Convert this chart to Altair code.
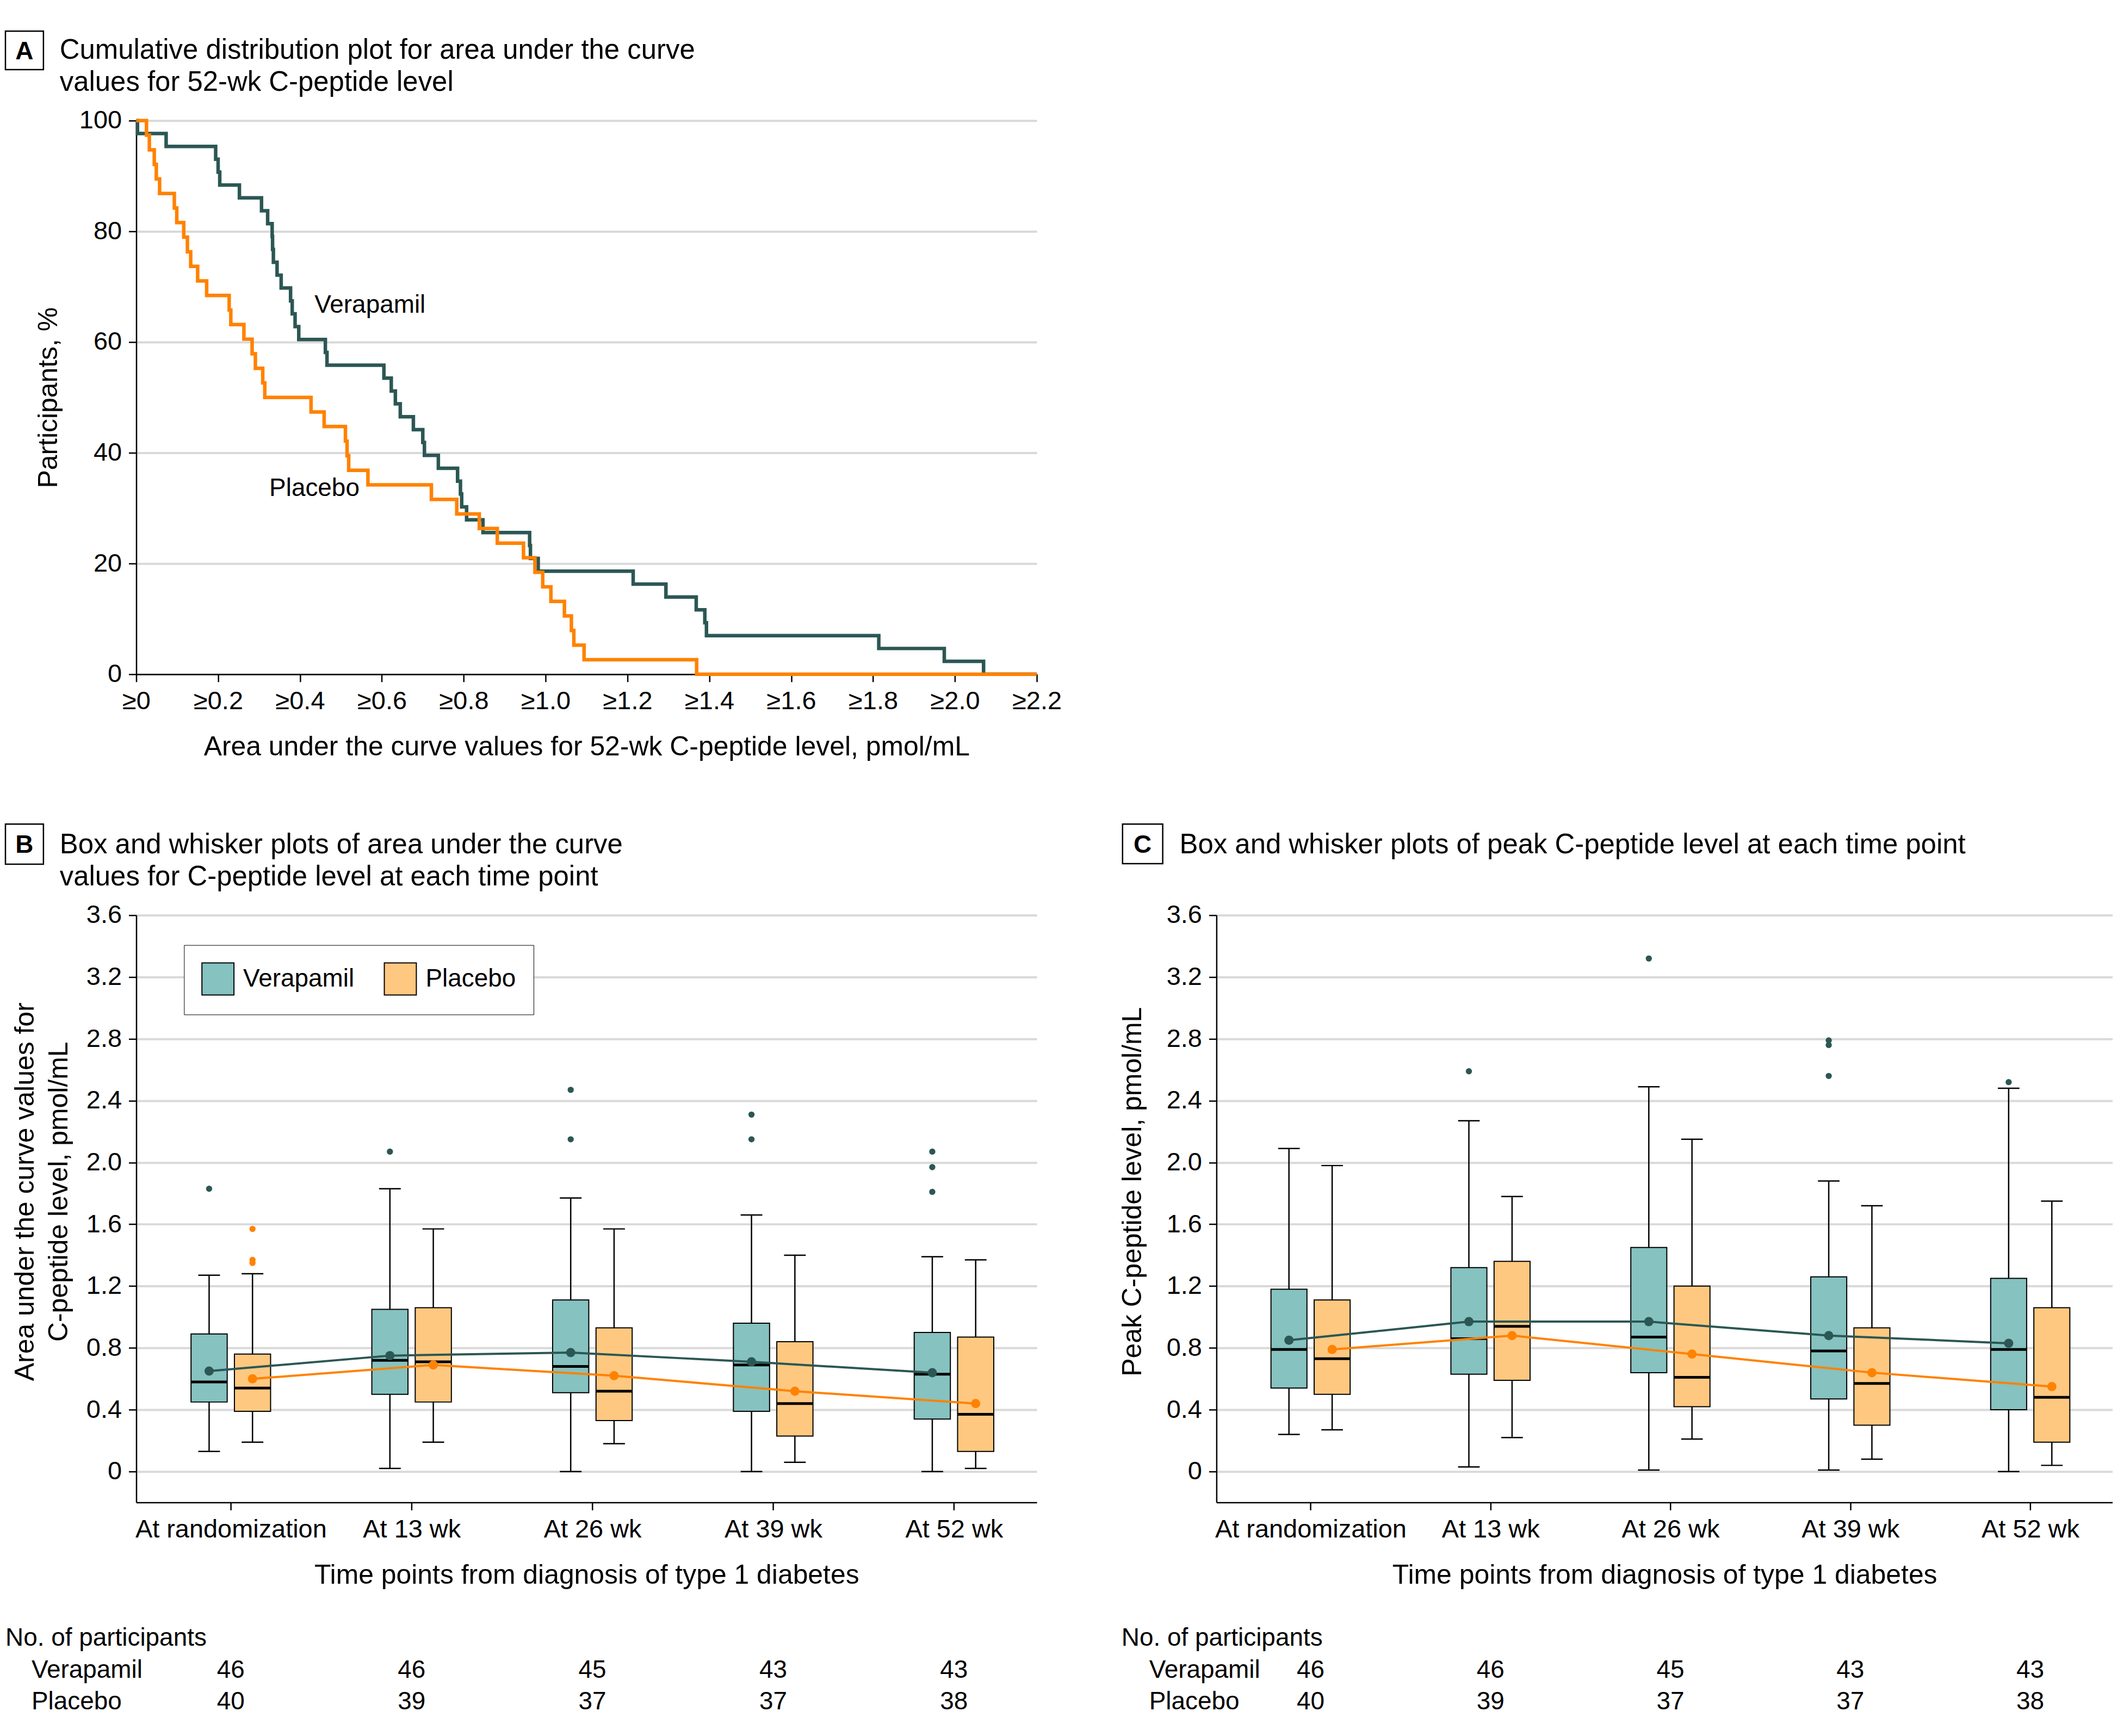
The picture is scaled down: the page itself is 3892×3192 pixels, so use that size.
import json
import altair as alt
import pandas as pd

FONT = "Liberation Sans, Arial, Helvetica, sans-serif"
TEAL_DARK = "#2B5754"
ORANGE = "#FF8200"
TEAL_FILL = "#85C2C0"
ORANGE_FILL = "#FFC880"
GRID = "#D9D9D9"

groups = ["Verapamil", "Placebo"]
timepoints = ["At randomization", "At 13 wk", "At 26 wk", "At 39 wk", "At 52 wk"]
timepoint_index = [0, 1, 2, 3, 4]

# ---------------- Panel A: 52-wk AUC per participant ----------------
verapamil_auc_52wk = [0.003, 0.073, 0.194, 0.200, 0.204, 0.252, 0.306, 0.321, 0.332, 0.333,
                      0.335, 0.344, 0.354, 0.377, 0.381, 0.388, 0.397, 0.462, 0.466, 0.605,
                      0.623, 0.633, 0.645, 0.677, 0.700, 0.704, 0.738, 0.785, 0.792, 0.795,
                      0.807, 0.847, 0.961, 0.963, 0.982, 1.214, 1.294, 1.368, 1.389, 1.393,
                      1.814, 1.974, 2.070]
placebo_auc_52wk = [0.025, 0.032, 0.044, 0.049, 0.057, 0.093, 0.099, 0.116, 0.125, 0.133,
                    0.150, 0.172, 0.227, 0.231, 0.263, 0.283, 0.291, 0.309, 0.314, 0.427,
                    0.459, 0.511, 0.515, 0.519, 0.566, 0.721, 0.783, 0.838, 0.882, 0.946,
                    0.974, 0.993, 1.013, 1.046, 1.063, 1.069, 1.094, 1.369]
a_x_ticks = [0, 0.2, 0.4, 0.6, 0.8, 1.0, 1.2, 1.4, 1.6, 1.8, 2.0, 2.2]
a_y_ticks = [0, 20, 40, 60, 80, 100]
a_label_text = ["Verapamil", "Placebo"]
a_label_x = [0.4355, 0.325]
a_label_y = [66.7, 33.6]

# ---------------- Panel B: AUC box statistics ----------------
b_ver_low = [0.13, 0.02, 0.00, 0.00, 0.00]
b_ver_q1 = [0.45, 0.50, 0.51, 0.39, 0.34]
b_ver_med = [0.58, 0.72, 0.68, 0.69, 0.63]
b_ver_q3 = [0.89, 1.05, 1.11, 0.96, 0.90]
b_ver_high = [1.27, 1.83, 1.77, 1.66, 1.39]
b_ver_mean = [0.65, 0.75, 0.77, 0.71, 0.64]
b_pla_low = [0.19, 0.19, 0.18, 0.06, 0.02]
b_pla_q1 = [0.39, 0.45, 0.33, 0.23, 0.13]
b_pla_med = [0.54, 0.71, 0.52, 0.44, 0.37]
b_pla_q3 = [0.76, 1.06, 0.93, 0.84, 0.87]
b_pla_high = [1.28, 1.57, 1.57, 1.40, 1.37]
b_pla_mean = [0.60, 0.69, 0.62, 0.52, 0.44]
b_out_t = [0, 0, 0, 0, 1, 2, 2, 3, 3, 4, 4, 4]
b_out_group = ["Verapamil", "Placebo", "Placebo", "Placebo", "Verapamil", "Verapamil",
               "Verapamil", "Verapamil", "Verapamil", "Verapamil", "Verapamil", "Verapamil"]
b_out_value = [1.83, 1.57, 1.37, 1.35, 2.07, 2.47, 2.15, 2.31, 2.15, 2.07, 1.97, 1.81]

# ---------------- Panel C: peak C-peptide box statistics ----------------
c_ver_low = [0.24, 0.03, 0.01, 0.01, 0.00]
c_ver_q1 = [0.54, 0.63, 0.64, 0.47, 0.40]
c_ver_med = [0.79, 0.86, 0.87, 0.78, 0.79]
c_ver_q3 = [1.18, 1.32, 1.45, 1.26, 1.25]
c_ver_high = [2.09, 2.27, 2.49, 1.88, 2.48]
c_ver_mean = [0.85, 0.97, 0.97, 0.88, 0.83]
c_pla_low = [0.27, 0.22, 0.21, 0.08, 0.04]
c_pla_q1 = [0.50, 0.59, 0.42, 0.30, 0.19]
c_pla_med = [0.73, 0.94, 0.61, 0.57, 0.48]
c_pla_q3 = [1.11, 1.36, 1.20, 0.93, 1.06]
c_pla_high = [1.98, 1.78, 2.15, 1.72, 1.75]
c_pla_mean = [0.79, 0.88, 0.76, 0.64, 0.55]
c_out_t = [1, 2, 3, 3, 3, 4]
c_out_group = ["Verapamil"] * 6
c_out_value = [2.59, 3.32, 2.79, 2.76, 2.56, 2.52]

n_verapamil = [46, 46, 45, 43, 43]
n_placebo = [40, 39, 37, 37, 38]
box_y_ticks = [0, 0.4, 0.8, 1.2, 1.6, 2.0, 2.4, 2.8, 3.2, 3.6]

# ---------------- layout constants ----------------
W_A, H_A = 1659, 1020
W_B, H_B = 1659, 1082
W_C = 1651
X_DOMAIN = [-0.523, 4.458]
OFF, HALF, CAP = 0.12, 0.1, 0.06
TICK_FS, TITLE_FS, TEXT_FS, HEAD_FS = 47, 50, 46, 51

one = pd.DataFrame({"k": [0]})


def text_at(s, x, y, size=HEAD_FS, align="left", weight="normal"):
    return alt.Chart(one).mark_text(text=s, fontSize=size, align=align, baseline="middle",
                                    fontWeight=weight, color="black").encode(
        x=alt.value(x), y=alt.value(y))


def letter_box(letter, x0, x1, y0, y1):
    box = alt.Chart(one).mark_rect(fill="white", stroke="black", strokeWidth=2.5).encode(
        x=alt.value(x0), x2=alt.value(x1), y=alt.value(y0), y2=alt.value(y1))
    return [box, text_at(letter, (x0 + x1) / 2, (y0 + y1) / 2 + 2, size=46, align="center", weight="bold")]


# ---------------- Panel A ----------------
def step_frame(values, name):
    n = len(values)
    xs = sorted(values)
    rows = [{"auc": 0.0, "pct": 100.0, "ord": 0, "group": name}]
    for i, v in enumerate(xs):
        rows.append({"auc": v, "pct": 100.0 * (n - i - 1) / n, "ord": i + 1, "group": name})
    rows.append({"auc": a_x_ticks[-1], "pct": 0.0, "ord": n + 1, "group": name})
    return pd.DataFrame(rows)


a_xs = alt.Scale(domain=[a_x_ticks[0], a_x_ticks[-1]], nice=False, zero=False)
a_ys = alt.Scale(domain=[0, 100], nice=False)
a_x_axis = alt.Axis(values=a_x_ticks,
                    labelExpr="datum.value == 0 ? '\u22650' : '\u2265' + format(datum.value, '.1f')",
                    title="Area under the curve values for 52-wk C-peptide level, pmol/mL",
                    titleY=134, titleBaseline="middle", grid=False, labelFlush=False,
                    labelOverlap=False, labelLimit=0)
a_y_axis = alt.Axis(values=a_y_ticks, format="d", title="Participants, %", titleX=-161, titleY=510,
                    titleBaseline="middle", titleAngle=270, grid=True, labelFlush=False,
                    labelOverlap=False, labelLimit=0)
AX = alt.X("auc:Q", scale=a_xs, axis=a_x_axis)
AY = alt.Y("pct:Q", scale=a_ys, axis=a_y_axis)

ver_line = alt.Chart(step_frame(verapamil_auc_52wk, "Verapamil")).mark_line(
    interpolate="step-after", color=TEAL_DARK, strokeWidth=6.5).encode(x=AX, y=AY, order="ord:Q")
pla_line = alt.Chart(step_frame(placebo_auc_52wk, "Placebo")).mark_line(
    interpolate="step-after", color=ORANGE, strokeWidth=6.5).encode(x=AX, y=AY, order="ord:Q")
a_labels = alt.Chart(pd.DataFrame({"auc": a_label_x, "pct": a_label_y, "label": a_label_text})).mark_text(
    align="left", baseline="middle", fontSize=TEXT_FS, color="black").encode(x=AX, y=AY, text="label:N")

panel_a = alt.layer(
    ver_line, pla_line, a_labels,
    *letter_box("A", -241, -171, -165, -94),
    text_at("Cumulative distribution plot for area under the curve", -141, -129),
    text_at("values for 52-wk C-peptide level", -141, -70),
).properties(width=W_A, height=H_A)


# ---------------- Box panels ----------------
def stats_frame(v, p):
    rows = []
    for g, s in (("Verapamil", v), ("Placebo", p)):
        for i in timepoint_index:
            rows.append({"group": g, "t": i, "low": s[0][i], "q1": s[1][i], "med": s[2][i],
                         "q3": s[3][i], "high": s[4][i], "mean": s[5][i]})
    return pd.DataFrame(rows)


XC_EXPR = f"datum.t + (datum.group == 'Verapamil' ? -{OFF} : {OFF})"
LABEL_EXPR = json.dumps(timepoints) + "[datum.value]"


def box_panel(stats_df, out_df, y_title, ytitle_x, titles, letter, lbox, title_x, tab_x0, tab_x1, width, legend):
    xs = alt.Scale(domain=X_DOMAIN, nice=False, zero=False)
    ys = alt.Scale(domain=[-0.2, 3.6], nice=False, zero=False)
    x_axis = alt.Axis(values=timepoint_index, labelExpr=LABEL_EXPR,
                      title="Time points from diagnosis of type 1 diabetes", titleY=134,
                      titleBaseline="middle", grid=False, labelFlush=False, labelOverlap=False,
                      labelLimit=0)
    y_axis = alt.Axis(values=box_y_ticks,
                      labelExpr="datum.value == 0 ? '0' : format(datum.value, '.1f')",
                      title=y_title, titleX=ytitle_x, titleY=509, titleBaseline="middle",
                      titleAngle=270, titleLineHeight=62, grid=True, labelFlush=False,
                      labelOverlap=False, labelLimit=0)

    def X(f):
        return alt.X(f, scale=xs, axis=x_axis)

    def Y(f):
        return alt.Y(f, scale=ys, axis=y_axis)

    fill_scale = alt.Scale(domain=groups, range=[TEAL_FILL, ORANGE_FILL])
    color_scale = alt.Scale(domain=groups, range=[TEAL_DARK, ORANGE])
    if legend:
        fill_legend = alt.Legend(orient="none", legendX=88, legendY=55, direction="horizontal",
                                 title=None, symbolType="square", symbolSize=3481,
                                 symbolStrokeColor="black", symbolStrokeWidth=2, symbolOpacity=1,
                                 labelFontSize=TEXT_FS, labelFont=FONT, labelColor="black",
                                 labelOffset=16, columnPadding=51, padding=32, strokeColor="black",
                                 fillColor="white", labelLimit=0)
        fill = alt.Fill("group:N", scale=fill_scale, legend=fill_legend)
    else:
        fill = alt.Fill("group:N", scale=fill_scale, legend=None)
    color = alt.Color("group:N", scale=color_scale, legend=None)

    base = alt.Chart(stats_df).transform_calculate(xc=XC_EXPR).transform_calculate(
        xl=f"datum.xc - {HALF}", xr=f"datum.xc + {HALF}",
        cl=f"datum.xc - {CAP}", cr=f"datum.xc + {CAP}")

    whisk = base.mark_rule(color="black", strokeWidth=2.5).encode(x=X("xc:Q"), y=Y("low:Q"), y2="high:Q")
    cap_lo = base.mark_rule(color="black", strokeWidth=2.5).encode(x=X("cl:Q"), x2="cr:Q", y=Y("low:Q"))
    cap_hi = base.mark_rule(color="black", strokeWidth=2.5).encode(x=X("cl:Q"), x2="cr:Q", y=Y("high:Q"))
    boxes = base.mark_rect(stroke="black", strokeWidth=2, opacity=1).encode(
        x=X("xl:Q"), x2="xr:Q", y=Y("q1:Q"), y2="q3:Q", fill=fill)
    med = base.mark_rule(color="black", strokeWidth=5).encode(x=X("xl:Q"), x2="xr:Q", y=Y("med:Q"))
    outl = alt.Chart(out_df).transform_calculate(xc=XC_EXPR).mark_circle(size=130, opacity=1).encode(
        x=X("xc:Q"), y=Y("value:Q"), color=color)
    mline = base.mark_line(strokeWidth=4).encode(x=X("xc:Q"), y=Y("mean:Q"), color=color)
    mpts = base.mark_circle(size=290, opacity=1).encode(x=X("xc:Q"), y=Y("mean:Q"), color=color)

    cnt = pd.DataFrame({"t": timepoint_index, "nv": n_verapamil, "np": n_placebo})
    row_v = alt.Chart(cnt).mark_text(fontSize=TEXT_FS, baseline="middle", color="black").encode(
        x=X("t:Q"), y=alt.value(1391), text="nv:Q")
    row_p = alt.Chart(cnt).mark_text(fontSize=TEXT_FS, baseline="middle", color="black").encode(
        x=X("t:Q"), y=alt.value(1449), text="np:Q")

    layers = [whisk, cap_lo, cap_hi, boxes, med, outl, mline, mpts, row_v, row_p,
              text_at("No. of participants", tab_x0, 1332, size=TEXT_FS),
              text_at("Verapamil", tab_x1, 1391, size=TEXT_FS),
              text_at("Placebo", tab_x1, 1449, size=TEXT_FS),
              *letter_box(letter, *lbox)]
    for i, line in enumerate(titles):
        layers.append(text_at(line, title_x, -129 + 59 * i))
    return alt.layer(*layers).properties(width=width, height=H_B)


b_stats = stats_frame([b_ver_low, b_ver_q1, b_ver_med, b_ver_q3, b_ver_high, b_ver_mean],
                      [b_pla_low, b_pla_q1, b_pla_med, b_pla_q3, b_pla_high, b_pla_mean])
c_stats = stats_frame([c_ver_low, c_ver_q1, c_ver_med, c_ver_q3, c_ver_high, c_ver_mean],
                      [c_pla_low, c_pla_q1, c_pla_med, c_pla_q3, c_pla_high, c_pla_mean])
b_out = pd.DataFrame({"t": b_out_t, "group": b_out_group, "value": b_out_value})
c_out = pd.DataFrame({"t": c_out_t, "group": c_out_group, "value": c_out_value})

panel_b = box_panel(b_stats, b_out,
                    ["Area under the curve values for", "C-peptide level, pmol/mL"], -204,
                    ["Box and whisker plots of area under the curve",
                     "values for C-peptide level at each time point"],
                    "B", (-241, -171, -168, -94), -141, -241, -193, W_B, True)
panel_c = box_panel(c_stats, c_out, "Peak C-peptide level, pmol/mL", -154,
                    ["Box and whisker plots of peak C-peptide level at each time point"],
                    "C", (-173, -99, -168, -95), -68, -175, -124, W_C, False)

bottom = alt.hconcat(panel_b, panel_c, spacing=331, bounds="flush").resolve_scale(
    fill="independent").resolve_legend(fill="independent")

chart = alt.vconcat(panel_a, bottom, spacing=444, bounds="flush").resolve_legend(
    fill="independent").properties(
    padding={"left": 0, "top": 44, "right": 0, "bottom": 10}
).configure_view(stroke=None).configure_axis(
    labelFont=FONT, titleFont=FONT, labelFontSize=TICK_FS, titleFontSize=TITLE_FS,
    labelColor="black", titleColor="black", titleFontWeight="normal",
    domainColor="black", domainWidth=2.5, tickColor="black", tickWidth=2.5, tickSize=14,
    gridColor=GRID, gridWidth=4, labelPadding=13
).configure_text(font=FONT).configure_legend(labelFont=FONT)

chart.save("out.html", embed_options={"renderer": "svg", "actions": False})
